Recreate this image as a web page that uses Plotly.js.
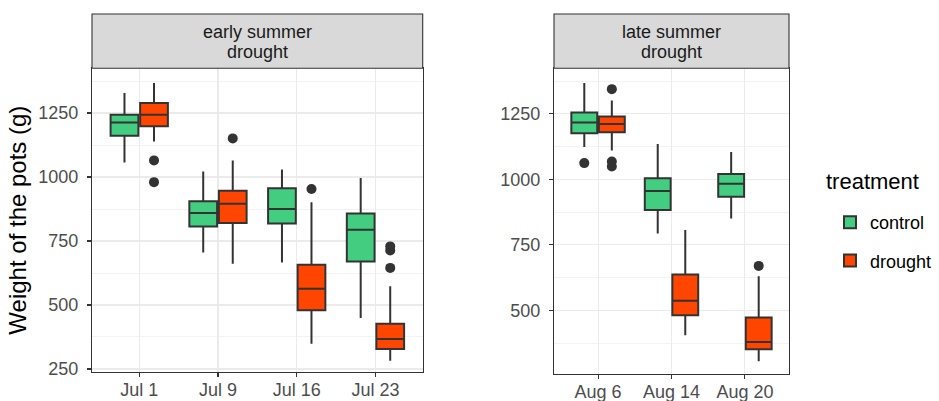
<!DOCTYPE html>
<html>
<head>
<meta charset="utf-8">
<script src="https://cdn.plot.ly/plotly-3.0.1.min.js"></script>
<style>html,body{margin:0;padding:0;background:#fff;}#chart{width:939px;height:401px;}</style>
</head>
<body>
<div id="chart"></div>
<script>
// ---- data ----
const catsEarly = ['Jul 1', 'Jul 9', 'Jul 16', 'Jul 23'];
const catsLate = ['Aug 6', 'Aug 14', 'Aug 20'];

const earlyControlLow = [1057, 705, 666, 449];
const earlyControlQ1 = [1161, 807, 818, 670];
const earlyControlMed = [1213, 859, 875, 794];
const earlyControlQ3 = [1243, 905, 956, 857];
const earlyControlHigh = [1328, 1022, 1029, 996];

const earlyDroughtLow = [1139, 661, 349, 282];
const earlyDroughtQ1 = [1198, 820, 479, 328];
const earlyDroughtMed = [1243, 896, 563, 367];
const earlyDroughtQ3 = [1289, 946, 657, 427];
const earlyDroughtHigh = [1367, 1065, 901, 573];
const earlyDroughtOutX = ['Jul 1', 'Jul 1', 'Jul 9', 'Jul 16', 'Jul 23', 'Jul 23', 'Jul 23'];
const earlyDroughtOutY = [1065, 980, 1151, 953, 729, 713, 645];

const lateControlLow = [1123, 794, 851];
const lateControlQ1 = [1176, 883, 934];
const lateControlMed = [1217, 956, 983];
const lateControlQ3 = [1255, 1004, 1020];
const lateControlHigh = [1367, 1135, 1104];
const lateControlOutX = ['Aug 6'];
const lateControlOutY = [1062];

const lateDroughtLow = [1110, 406, 306];
const lateDroughtQ1 = [1180, 482, 352];
const lateDroughtMed = [1211, 537, 380];
const lateDroughtQ3 = [1240, 637, 473];
const lateDroughtHigh = [1301, 807, 631];
const lateDroughtOutX = ['Aug 6', 'Aug 6', 'Aug 6', 'Aug 20'];
const lateDroughtOutY = [1344, 1068, 1049, 670];

const treatments = ['control', 'drought'];
const stripEarly = ['early summer', 'drought'];
const stripLate = ['late summer', 'drought'];
const yTitle = 'Weight of the pots (g)';
const legendTitle = 'treatment';

// ---- styles ----
const colors = {control: '#43CD80', drought: '#FF4500'};
const edge = '#333333';
const FONT = 'Liberation Sans, Arial, Helvetica, sans-serif';

function statBox(name, cats, low, q1, med, q3, high, xa, ya, showLegend) {
  return {
    type: 'box', name: name, legendgroup: name, showlegend: showLegend,
    offsetgroup: name, x: cats, q1: q1, median: med, q3: q3,
    lowerfence: low, upperfence: high,
    fillcolor: colors[name], line: {color: edge, width: 2},
    whiskerwidth: 0, boxpoints: false, xaxis: xa, yaxis: ya,
    hoverinfo: 'y'
  };
}
function outlierPts(name, xs, ys, xa, ya) {
  return {
    type: 'box', name: name, legendgroup: name, showlegend: false,
    offsetgroup: name, x: xs, y: ys,
    boxpoints: 'all', jitter: 0, pointpos: 0,
    fillcolor: 'rgba(0,0,0,0)', line: {color: 'rgba(0,0,0,0)', width: 0},
    marker: {color: edge, size: 10, line: {width: 0}},
    whiskerwidth: 0, xaxis: xa, yaxis: ya, hoverinfo: 'y'
  };
}

const data = [
  statBox('control', catsEarly, earlyControlLow, earlyControlQ1, earlyControlMed, earlyControlQ3, earlyControlHigh, 'x', 'y', true),
  statBox('drought', catsEarly, earlyDroughtLow, earlyDroughtQ1, earlyDroughtMed, earlyDroughtQ3, earlyDroughtHigh, 'x', 'y', true),
  outlierPts('drought', earlyDroughtOutX, earlyDroughtOutY, 'x', 'y'),
  statBox('control', catsLate, lateControlLow, lateControlQ1, lateControlMed, lateControlQ3, lateControlHigh, 'x2', 'y2', false),
  statBox('drought', catsLate, lateDroughtLow, lateDroughtQ1, lateDroughtMed, lateDroughtQ3, lateDroughtHigh, 'x2', 'y2', false),
  outlierPts('control', lateControlOutX, lateControlOutY, 'x2', 'y2'),
  outlierPts('drought', lateDroughtOutX, lateDroughtOutY, 'x2', 'y2')
];

const W = 939, H = 401;
const M = {l: 92, r: 150, t: 68, b: 27};
const PW = W - M.l - M.r, PH = H - M.t - M.b;
const px = v => (v - M.l) / PW;      // pixel x -> paper
const py = v => 1 - (v - M.t) / PH;  // pixel y -> paper

const commonX = {
  type: 'category', showline: true, mirror: true, linecolor: edge, linewidth: 1.1,
  showgrid: true, gridcolor: '#ebebeb', gridwidth: 1.1, zeroline: false,
  ticks: 'outside', ticklen: 4, tickwidth: 1.1, tickcolor: edge,
  tickfont: {family: FONT, size: 18, color: '#4d4d4d'}, ticklabelstandoff: -3, fixedrange: true
};
const commonY = {
  showline: true, mirror: true, linecolor: edge, linewidth: 1.1,
  showgrid: true, gridcolor: '#ebebeb', gridwidth: 1.1, zeroline: false,
  ticks: 'outside', ticklen: 4, tickwidth: 1.1, tickcolor: edge,
  tickfont: {family: FONT, size: 18, color: '#4d4d4d'}, ticklabelstandoff: 5,
  tick0: 250, dtick: 250,
  minor: {dtick: 125, tick0: 125, showgrid: true, gridcolor: '#ebebeb', gridwidth: 0.6, ticks: ''},
  fixedrange: true
};

const stripFont = {family: FONT, size: 18, color: '#1a1a1a'};
function stripNotes(lines, x0, x1) {
  const ys = [32, 52];
  return lines.map((t, i) => ({
    xref: 'paper', yref: 'paper', x: px((x0 + x1) / 2), y: py(ys[i]), text: t,
    showarrow: false, xanchor: 'center', yanchor: 'middle', font: stripFont
  }));
}

const layout = {
  width: W, height: H, margin: M,
  paper_bgcolor: '#ffffff', plot_bgcolor: '#ffffff',
  font: {family: FONT, color: '#000'},
  boxmode: 'group', boxgap: 0.25, boxgroupgap: 0.06,
  xaxis: Object.assign({}, commonX, {domain: [0, px(422.7)], range: [-0.6, 3.6], anchor: 'y', categoryarray: catsEarly, categoryorder: 'array'}),
  yaxis: Object.assign({}, commonY, {domain: [py(372.3), 1], range: [237, 1426], anchor: 'x',
    title: {text: yTitle, font: {family: FONT, size: 24, color: '#000'}, standoff: 4}}),
  xaxis2: Object.assign({}, commonX, {domain: [px(554), 1], range: [-0.6, 2.6], anchor: 'y2', categoryarray: catsLate, categoryorder: 'array'}),
  yaxis2: Object.assign({}, commonY, {domain: [0, 1], range: [257.8, 1424.6], anchor: 'x2'}),
  showlegend: true,
  legend: {
    xref: 'container', yref: 'container',
    x: 830 / W, xanchor: 'left', y: 1 - 204 / H, yanchor: 'top',
    font: {family: FONT, size: 18, color: '#000'},
    bgcolor: 'rgba(0,0,0,0)', borderwidth: 0, traceorder: 'grouped', tracegroupgap: 12
  },
  shapes: [
    {type: 'rect', xref: 'paper', yref: 'paper', x0: 0, x1: px(422.7), y0: py(68.3), y1: py(14),
     fillcolor: '#d9d9d9', line: {color: edge, width: 1.1}, layer: 'above'},
    {type: 'rect', xref: 'paper', yref: 'paper', x0: px(554), x1: 1, y0: py(68.3), y1: py(14),
     fillcolor: '#d9d9d9', line: {color: edge, width: 1.1}, layer: 'above'}
  ],
  annotations: stripNotes(stripEarly, 92, 422.7).concat(stripNotes(stripLate, 554, 789.3)).concat([
    {xref: 'paper', yref: 'paper', x: px(824), y: py(181), text: legendTitle, showarrow: false,
     xanchor: 'left', yanchor: 'middle', font: {family: FONT, size: 22, color: '#000'}}
  ])
};

Plotly.newPlot('chart', data, layout, {displayModeBar: false, staticPlot: true});
</script>
</body>
</html>
